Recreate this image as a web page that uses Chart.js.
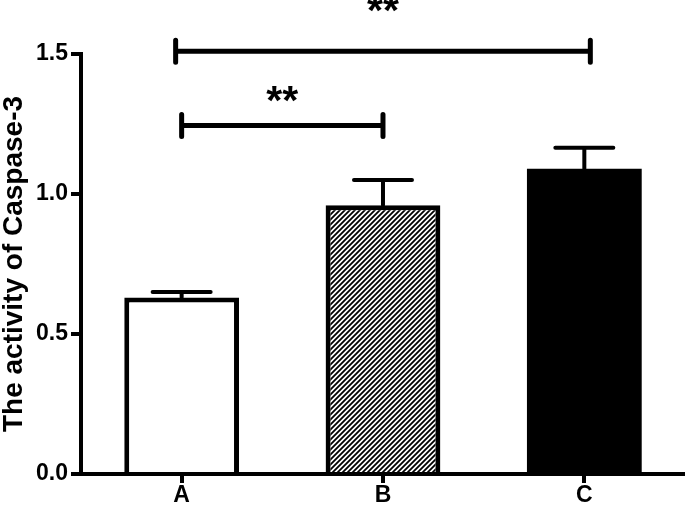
<!DOCTYPE html>
<html>
<head>
<meta charset="utf-8">
<script src="https://cdn.jsdelivr.net/npm/chart.js@4"></script>
<style>
  body { margin: 0; background: #fff; }
  #wrap { width: 685px; height: 505px; }
</style>
</head>
<body>
<div id="wrap"><canvas id="caspaseChart"></canvas></div>
<script>
const categories = ["A", "B", "C"];
const means = [0.63, 0.96, 1.09];
const sems = [0.02, 0.09, 0.075];
// significance brackets: from / to category index, height in axis units
const bracketFrom = [0, 0];
const bracketTo = [1, 2];
const bracketLevel = [1.245, 1.51];
const bracketText = ["**", "**"];

// diagonal hatch for B
const tmp = document.createElement("canvas").getContext("2d");
const hatch = (function () {
  const s = 5;
  const c = document.createElement("canvas");
  c.width = s; c.height = s;
  const g = c.getContext("2d");
  g.fillStyle = "#fff";
  g.fillRect(0, 0, s, s);
  g.strokeStyle = "#000";
  g.lineWidth = 1.8;
  g.beginPath();
  g.moveTo(0, s); g.lineTo(s, 0);
  g.moveTo(-1, 1); g.lineTo(1, -1);
  g.moveTo(s - 1, s + 1); g.lineTo(s + 1, s - 1);
  g.stroke();
  return tmp.createPattern(c, "repeat");
})();

// error bars (mean + SEM, upper only)
const errorBars = {
  id: "errorBars",
  afterDatasetsDraw(chart) {
    const ctx = chart.ctx;
    const x = chart.scales.x;
    const y = chart.scales.y;
    ctx.save();
    ctx.strokeStyle = "#000";
    ctx.lineWidth = 4;
    ctx.lineCap = "round";
    for (let i = 0; i < means.length; i++) {
      const cx = x.getPixelForValue(i);
      const top = y.getPixelForValue(means[i] + sems[i]);
      const base = y.getPixelForValue(means[i]);
      ctx.beginPath();
      ctx.moveTo(cx, base);
      ctx.lineTo(cx, top);
      ctx.moveTo(cx - 29, top);
      ctx.lineTo(cx + 29, top);
      ctx.stroke();
    }
    ctx.restore();
  },
};

// significance brackets with stars
const brackets = {
  id: "brackets",
  afterDraw(chart, args, opts) {
    const ctx = chart.ctx;
    const x = chart.scales.x;
    const y = chart.scales.y;
    ctx.save();
    ctx.strokeStyle = "#000";
    ctx.fillStyle = "#000";
    ctx.lineWidth = 5;
    ctx.lineCap = "round";
    ctx.font = "bold 41px Arial, 'Liberation Sans', sans-serif";
    ctx.textAlign = "center";
    ctx.textBaseline = "middle";
    for (let i = 0; i < bracketLevel.length; i++) {
      const x1 = x.getPixelForValue(bracketFrom[i]) - opts.spread[i];
      const x2 = x.getPixelForValue(bracketTo[i]) + opts.spread[i];
      const yy = y.getPixelForValue(bracketLevel[i]);
      ctx.beginPath();
      ctx.moveTo(x1, yy);
      ctx.lineTo(x2, yy);
      ctx.moveTo(x1, yy - 11);
      ctx.lineTo(x1, yy + 11);
      ctx.moveTo(x2, yy - 11);
      ctx.lineTo(x2, yy + 11);
      ctx.stroke();
      ctx.fillText(bracketText[i], (x1 + x2) / 2, yy - opts.gap[i]);
    }
    ctx.restore();
  },
};

const tickFont = { family: "Arial, 'Liberation Sans'", size: 23, weight: "bold", lineHeight: 1 };

const config = {
  type: "bar",
  data: {
    labels: categories,
    datasets: [
      {
        data: means,
        backgroundColor: ["#fff", hatch, "#000"],
        borderColor: "#000",
        borderWidth: [5, 5, 0],
        borderSkipped: "bottom",
        categoryPercentage: 1,
        barPercentage: 0.57,
      },
    ],
  },
  options: {
    responsive: true,
    maintainAspectRatio: false,
    animation: { duration: 0 },
    layout: { padding: { top: 54, left: 0, right: 0, bottom: -3 } },
    plugins: {
      legend: { display: false },
      tooltip: { enabled: false },
      brackets: { spread: [0, 6], gap: [23, 39] },
    },
    scales: {
      x: {
        border: { color: "#000", width: 4 },
        grid: { offset: false, drawOnChartArea: false, drawTicks: true, tickLength: 9, color: "#000", lineWidth: 4 },
        ticks: { color: "#000", font: tickFont, padding: 1 },
      },
      y: {
        min: 0,
        max: 1.5,
        border: { color: "#000", width: 4 },
        grid: { drawOnChartArea: false, drawTicks: true, tickLength: 10, color: "#000", lineWidth: 4 },
        ticks: {
          stepSize: 0.5,
          color: "#000",
          padding: 3,
          font: tickFont,
          callback: (v) => v.toFixed(1),
        },
        title: {
          display: true,
          text: "The activity of Caspase-3",
          color: "#000",
          font: { family: "Arial, 'Liberation Sans'", size: 28, weight: "bold", lineHeight: 1 },
          padding: { top: 0, bottom: 5 },
        },
      },
    },
  },
  plugins: [errorBars, brackets],
};

const caspaseChart = new Chart(document.getElementById("caspaseChart"), config);
</script>
</body>
</html>
